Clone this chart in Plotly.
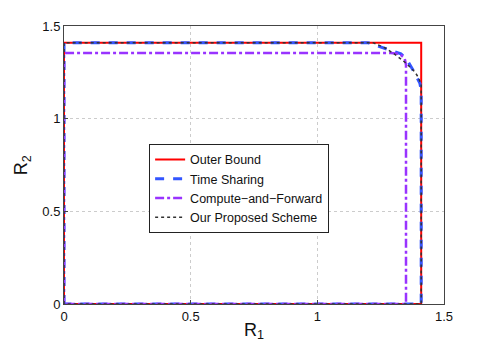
import plotly.graph_objects as go

# rate region boundaries (R1, R2)
outer_r1 = [0, 0, 1.41, 1.41, 0]
outer_r2 = [0, 1.41, 1.41, 0, 0]

ts_r1 = [0, 0, 1.20, 1.29, 1.33, 1.355, 1.385, 1.405, 1.41, 1.41, 0]
ts_r2 = [0, 1.41, 1.41, 1.37, 1.35, 1.315, 1.245, 1.19, 1.15, 0, 0]

cf_r1 = [0, 0, 1.29, 1.325, 1.345, 1.35, 1.35, 0]
cf_r2 = [0, 1.354, 1.354, 1.35, 1.325, 1.29, 0, 0]

ours_r1 = [0, 0, 1.22, 1.27, 1.31, 1.35, 1.385, 1.40, 1.41, 1.41, 0]
ours_r2 = [0, 1.41, 1.41, 1.38, 1.343, 1.30, 1.252, 1.22, 1.18, 0, 0]

font = "Liberation Sans, Arial, sans-serif"

fig = go.Figure()
fig.add_trace(go.Scatter(x=outer_r1, y=outer_r2, mode="lines", name="Outer Bound",
                         line=dict(color="#ff0000", width=2)))
fig.add_trace(go.Scatter(x=ts_r1, y=ts_r2, mode="lines", name="Time Sharing",
                         line=dict(color="#3355ff", width=3, dash="dash")))
fig.add_trace(go.Scatter(x=cf_r1, y=cf_r2, mode="lines", name="Compute\u2212and\u2212Forward",
                         line=dict(color="#9933ff", width=2.5, dash="dashdot")))
fig.add_trace(go.Scatter(x=ours_r1, y=ours_r2, mode="lines", name="Our Proposed Scheme",
                         line=dict(color="#333333", width=1.5, dash="dot")))

axis_common = dict(
    range=[0, 1.5], tickvals=[0, 0.5, 1, 1.5], ticktext=["0", "0.5", "1", "1.5"],
    showgrid=True, gridcolor="#cccccc", griddash="dot", gridwidth=1,
    showline=True, linecolor="#444444", linewidth=1, mirror=True,
    ticks="inside", ticklen=4, tickcolor="#444444",
    zeroline=False, automargin=False,
    tickfont=dict(size=13, color="#111111", family=font),
)

# page body adds an 8px offset, so margins are shifted to compensate
fig.update_layout(
    width=491, height=349,
    margin=dict(l=56, r=55, t=18, b=53),
    paper_bgcolor="white", plot_bgcolor="white",
    font=dict(family=font, color="#111111"),
    showlegend=True,
    legend=dict(x=0.224, y=0.576, xanchor="left", yanchor="top",
                bordercolor="#222222", borderwidth=1, bgcolor="white",
                font=dict(size=12.5, family=font), tracegroupgap=0,
                itemwidth=30),
    xaxis=dict(axis_common, title=dict(text="R<sub>1</sub>", font=dict(size=18), standoff=0)),
    yaxis=axis_common,
)
fig.add_annotation(text="R<sub>2</sub>", xref="paper", yref="paper", x=-0.11, y=0.5,
                   textangle=-90, showarrow=False, font=dict(size=18, color="#111111"),
                   xanchor="center", yanchor="middle")

fig.write_html("out.html")
